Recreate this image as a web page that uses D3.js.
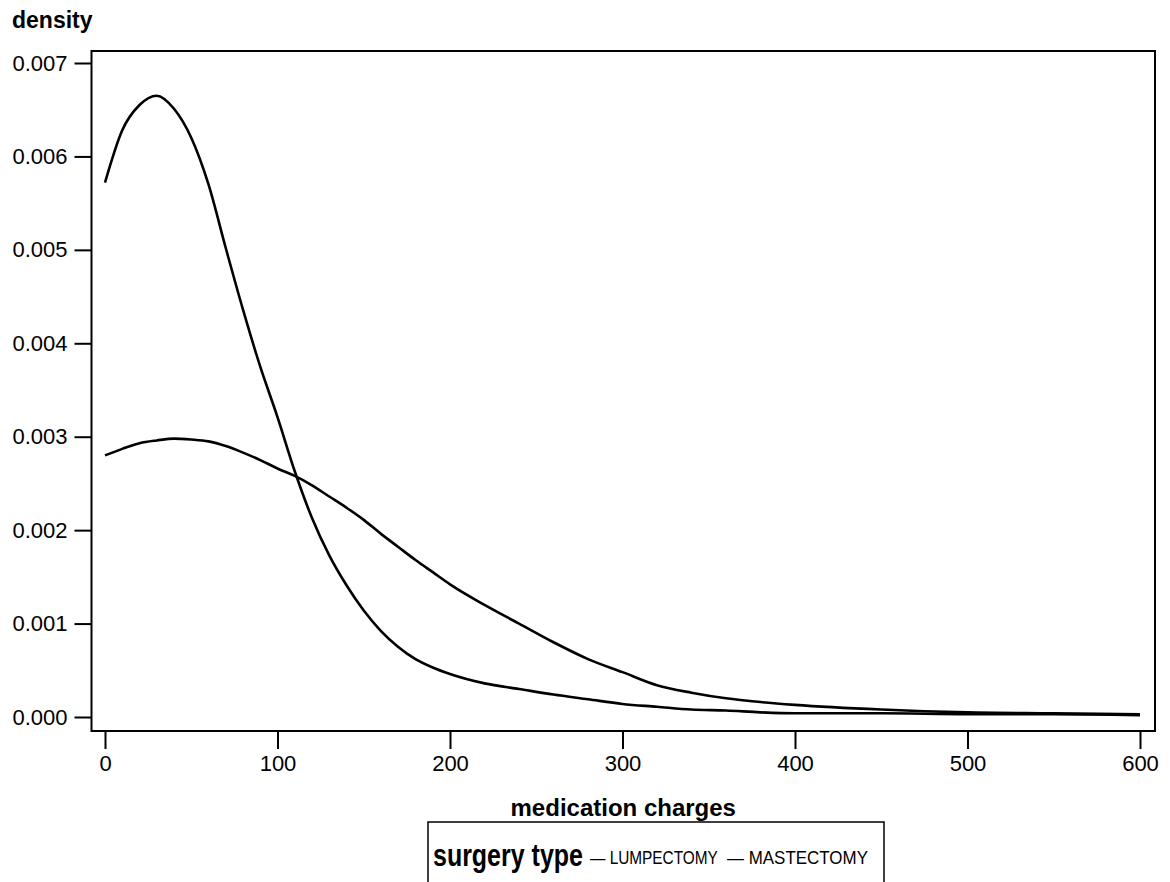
<!DOCTYPE html>
<html>
<head>
<meta charset="utf-8">
<script src="https://cdn.jsdelivr.net/npm/d3@7"></script>
<style>
  body { margin: 0; background: #fff; }
  text { font-family: "Liberation Sans", Arial, sans-serif; fill: #000; }
</style>
</head>
<body>
<div id="cnt"></div>
<script>
let ancho = 1170;
let largo = 882;

// datos
let cargos = [0, 10, 20, 30, 40, 50, 60, 70, 80, 90, 100, 110, 120, 130, 140, 150, 160, 170, 180, 190, 200,
  220, 240, 260, 280, 300, 320, 340, 360, 380, 400, 450, 500, 550, 600];
let lumpectomia = [0.00572, 0.00628, 0.00655, 0.00665, 0.00651, 0.00620, 0.00570, 0.00502, 0.00436, 0.00375, 0.00321,
  0.00263, 0.00213, 0.00173, 0.00141, 0.00114, 0.00092, 0.00075, 0.00062, 0.00053, 0.00046,
  0.00036, 0.00030, 0.00024, 0.00019, 0.00014, 0.00011, 0.00008, 0.00007, 0.00005, 0.00004, 0.00004, 0.00003, 0.00003, 0.00002];
let mastectomia = [0.00280, 0.00287, 0.00293, 0.00296, 0.00298, 0.00297, 0.00295, 0.00290, 0.00283, 0.00275, 0.00266,
  0.00258, 0.00248, 0.00236, 0.00224, 0.00211, 0.00196, 0.00182, 0.00168, 0.00155, 0.00142,
  0.00120, 0.00100, 0.00080, 0.00062, 0.00048, 0.00034, 0.00026, 0.00020, 0.00016, 0.00013, 0.00008, 0.00005, 0.00004, 0.00003];
let series = ["LUMPECTOMY", "MASTECTOMY"];
let ticksX = [0, 100, 200, 300, 400, 500, 600];
let ticksY = [0, 0.001, 0.002, 0.003, 0.004, 0.005, 0.006, 0.007];

// marco del grafico
let izq = 91.5, der = 1155, arriba = 51, abajo = 731;

let x = d3.scaleLinear().domain([0, 600]).range([105, 1140]);
let y = d3.scaleLinear().domain([0, 0.007]).range([717, 63]);

let svg = d3.select('#cnt')
  .append("svg")
  .attr('width', ancho)
  .attr('height', largo);

// ejes
svg.append("g")
  .attr("transform", "translate(" + izq + ",0)")
  .call(d3.axisLeft(y).tickValues(ticksY).tickFormat(d3.format(".3f")).tickSize(17).tickPadding(7))
  .call(g => g.select(".domain").remove())
  .call(g => g.selectAll("line").attr("stroke", "#000").attr("stroke-width", 2))
  .call(g => g.selectAll("text").style("font-size", "22px").attr("font-family", null));

svg.append("g")
  .attr("transform", "translate(0," + abajo + ")")
  .call(d3.axisBottom(x).tickValues(ticksX).tickSize(18).tickPadding(6))
  .call(g => g.select(".domain").remove())
  .call(g => g.selectAll("line").attr("stroke", "#000").attr("stroke-width", 2))
  .call(g => g.selectAll("text").style("font-size", "22px").attr("font-family", null));

svg.append("rect")
  .attr('x', izq)
  .attr('y', arriba)
  .attr('width', der - izq)
  .attr('height', abajo - arriba)
  .style('fill', 'none')
  .style('stroke', '#000')
  .style('stroke-width', 2);

// curvas de densidad
let linea = d3.line()
  .x((d, i) => x(cargos[i]))
  .y(d => y(d))
  .curve(d3.curveMonotoneX);

svg.selectAll("path.curva")
  .data([lumpectomia, mastectomia])
  .enter()
  .append("path")
  .attr("class", "curva")
  .attr("d", linea)
  .style("fill", "none")
  .style("stroke", "#000")
  .style("stroke-width", 2.6);

// titulos
svg.append("text")
  .text("density")
  .attr("x", 12)
  .attr("y", 28)
  .style("font-weight", "bold")
  .style("font-size", "23px");

svg.append("text")
  .text("medication charges")
  .attr("x", (izq + der) / 2)
  .attr("y", 816)
  .attr("text-anchor", "middle")
  .style("font-weight", "bold")
  .style("font-size", "24px");

// leyenda (texto angosto: se comprime en x)
svg.append("rect")
  .attr('x', 428)
  .attr('y', 822)
  .attr('width', 456)
  .attr('height', 80)
  .style('fill', 'none')
  .style('stroke', '#000')
  .style('stroke-width', 1.5);

function angosto(sel, px, py, largoFinal) {
  let natural = sel.node().getComputedTextLength();
  sel.attr("transform", "translate(" + px + "," + py + ") scale(" + (largoFinal / natural) + ",1)");
}

svg.append("text")
  .text("surgery type")
  .style("font-weight", "bold")
  .style("font-size", "31px")
  .call(angosto, 433, 866, 150);

let posLeyenda = [590, 727];
let largoLeyenda = [128, 141];
svg.selectAll("text.ley")
  .data(series)
  .enter()
  .append("text")
  .attr("class", "ley")
  .style("font-size", "19px")
  .text(d => "\u2014 " + d)
  .each(function (d, i) { angosto(d3.select(this), posLeyenda[i], 864, largoLeyenda[i]); });
</script>
</body>
</html>
